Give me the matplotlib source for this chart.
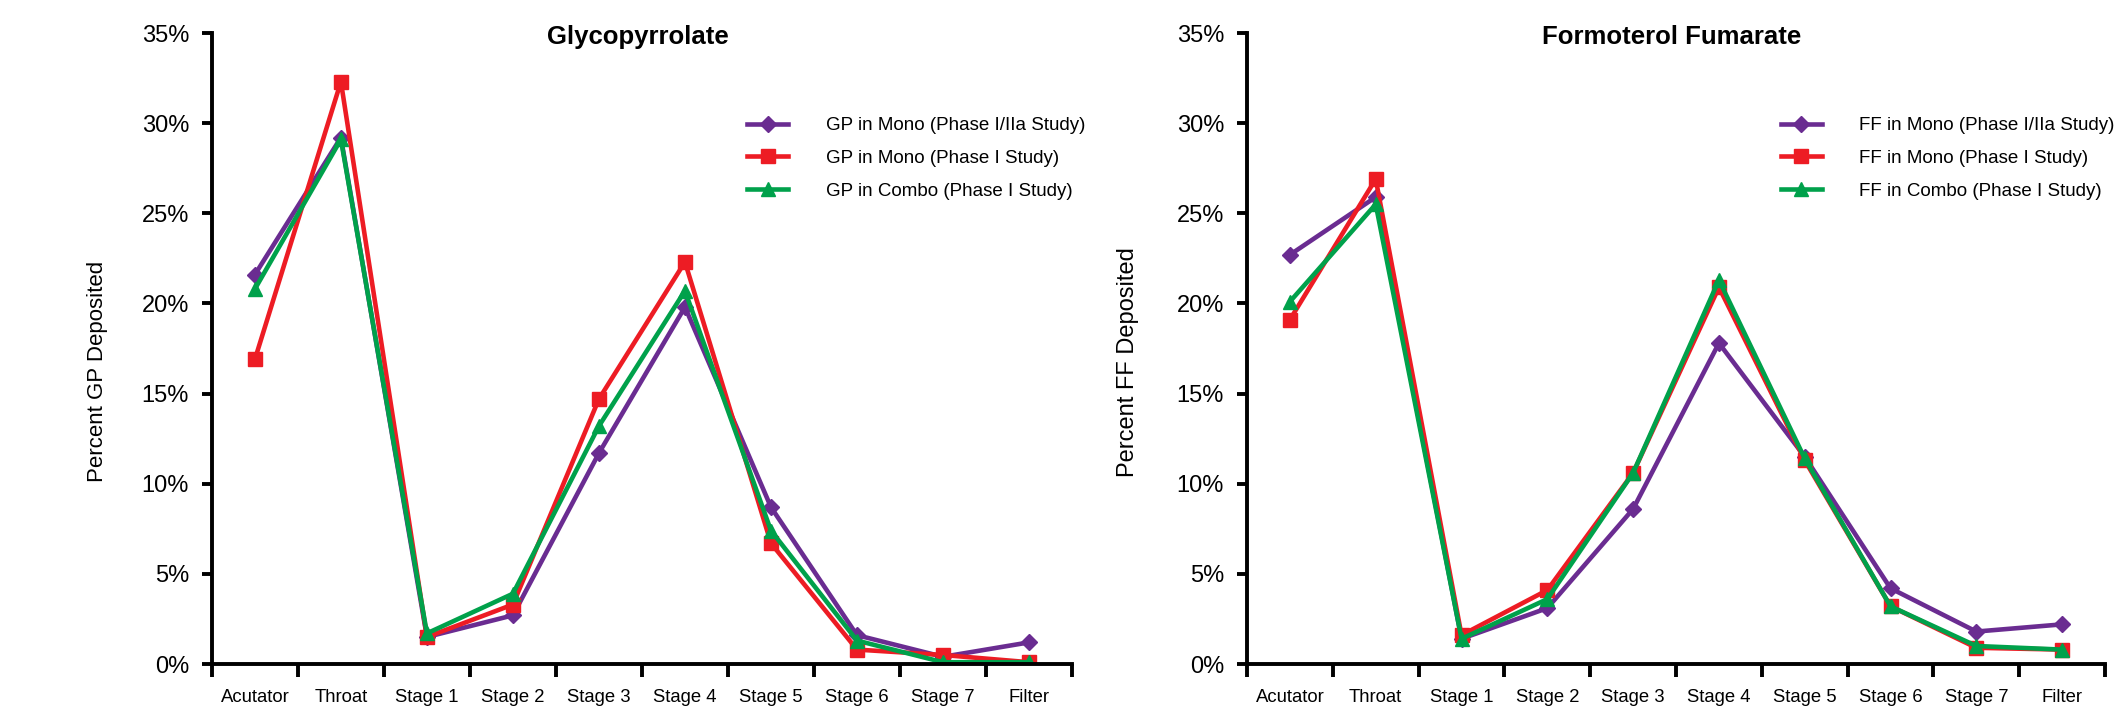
import matplotlib
matplotlib.use("Agg")
import matplotlib.pyplot as plt
from matplotlib.ticker import FixedLocator, FuncFormatter

plt.rcParams['font.family'] = ['Liberation Sans', 'DejaVu Sans']

stages = ["Acutator", "Throat", "Stage 1", "Stage 2", "Stage 3",
          "Stage 4", "Stage 5", "Stage 6", "Stage 7", "Filter"]

gp_mono_p12 = [21.6, 29.2, 1.5, 2.7, 11.7, 19.8, 8.7, 1.6, 0.4, 1.2]
gp_mono_p1 = [16.9, 32.3, 1.5, 3.3, 14.7, 22.3, 6.7, 0.8, 0.5, 0.1]
gp_combo_p1 = [20.8, 29.1, 1.7, 3.9, 13.2, 20.7, 7.4, 1.3, 0.1, 0.1]

ff_mono_p12 = [22.7, 25.9, 1.4, 3.1, 8.6, 17.8, 11.5, 4.2, 1.8, 2.2]
ff_mono_p1 = [19.1, 26.9, 1.6, 4.1, 10.6, 20.9, 11.3, 3.2, 0.9, 0.8]
ff_combo_p1 = [20.1, 25.5, 1.4, 3.6, 10.6, 21.3, 11.4, 3.2, 1.0, 0.8]

purple = "#6A2C91"
red = "#ED1C24"
green = "#00A14B"

fig = plt.figure(figsize=(21.19, 7.07), dpi=100)
ax1 = fig.add_axes([0.1000, 0.0608, 0.4059, 0.8925])
ax2 = fig.add_axes([0.5885, 0.0608, 0.4049, 0.8925])

# axes, title, y label, label size, label position, drug code, series
panels = [
    (ax1, "Glycopyrrolate", "Percent GP Deposited", 16, (-0.121, 0.463), "GP",
     [gp_mono_p12, gp_mono_p1, gp_combo_p1]),
    (ax2, "Formoterol Fumarate", "Percent FF Deposited", 17, (-0.126, 0.478), "FF",
     [ff_mono_p12, ff_mono_p1, ff_combo_p1]),
]

x = list(range(len(stages)))
for ax, title, ylabel, ysize, ypos, drug, series in panels:
    labels = [drug + " in Mono (Phase I/IIa Study)",
              drug + " in Mono (Phase I Study)",
              drug + " in Combo (Phase I Study)"]
    ax.plot(x, series[0], color=purple, lw=3.3, marker="D", ms=8, label=labels[0])
    ax.plot(x, series[1], color=red, lw=3.3, marker="s", ms=9.5, label=labels[1])
    ax.plot(x, series[2], color=green, lw=3.3, marker="^", ms=10, label=labels[2])

    ax.set_xlim(-0.5, 9.5)
    ax.set_ylim(0, 35)
    ax.set_yticks(range(0, 36, 5))
    ax.yaxis.set_major_formatter(FuncFormatter(lambda v, p: "%d%%" % v))
    ax.xaxis.set_major_locator(FixedLocator([i - 0.5 for i in range(11)]))
    ax.xaxis.set_minor_locator(FixedLocator(x))
    ax.set_xticklabels([], minor=False)
    ax.set_xticklabels(stages, minor=True)
    ax.tick_params(axis="x", which="minor", length=0, labelsize=13.3, pad=18)
    ax.tick_params(axis="x", which="major", length=9, width=2.8, direction="out")
    ax.tick_params(axis="y", length=7.5, width=2.8, labelsize=17, pad=9)

    for s in ["top", "right"]:
        ax.spines[s].set_visible(False)
    for s in ["left", "bottom"]:
        ax.spines[s].set_linewidth(2.8)

    ax.text(0.495, 0.994, title, transform=ax.transAxes, ha="center",
            va="center", fontsize=18.5, fontweight="bold")
    ax.set_ylabel(ylabel, fontsize=ysize)
    ax.yaxis.set_label_coords(*ypos)
    ax.legend(loc="upper left", bbox_to_anchor=(0.622, 0.867), frameon=False,
              fontsize=13.5, handlelength=2.2, labelspacing=0.84,
              handletextpad=2.0, borderpad=0, borderaxespad=0)

fig.savefig("out.png", dpi=100)
